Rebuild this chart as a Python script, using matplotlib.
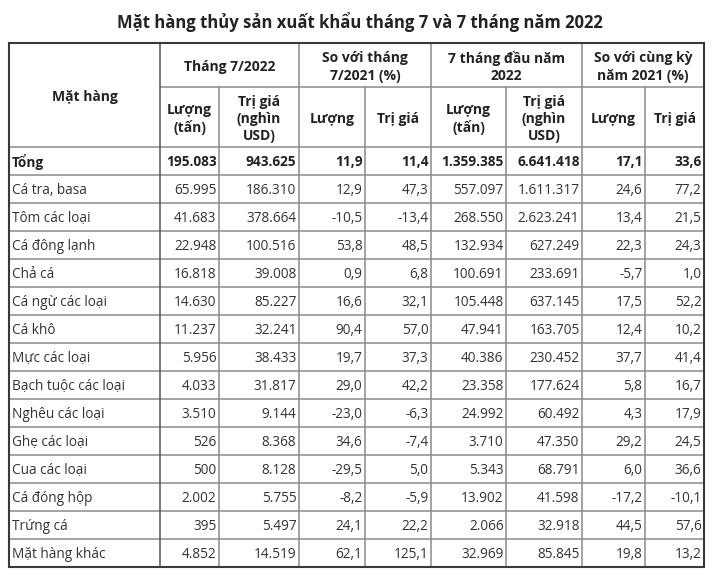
import matplotlib
matplotlib.use("Agg")
import matplotlib.pyplot as plt

plt.rcParams['font.family'] = ['Open Sans', 'DejaVu Sans']

title = "Mặt hàng thủy sản xuất khẩu tháng 7 và 7 tháng năm 2022"

group_headers = ["Tháng 7/2022", "So với tháng\n7/2021 (%)", "7 tháng đầu năm\n2022", "So với cùng kỳ\nnăm 2021 (%)"]
sub_headers = ["Lượng\n(tấn)", "Trị giá\n(nghìn\nUSD)", "Lượng", "Trị giá",
               "Lượng\n(tấn)", "Trị giá\n(nghìn\nUSD)", "Lượng", "Trị giá"]
first_header = "Mặt hàng"

items = ["Tổng", "Cá tra, basa", "Tôm các loại", "Cá đông lạnh", "Chả cá", "Cá ngừ các loại",
         "Cá khô", "Mực các loại", "Bạch tuộc các loại", "Nghêu các loại", "Ghẹ các loại",
         "Cua các loại", "Cá đóng hộp", "Trứng cá", "Mặt hàng khác"]

jul_vol = [195083, 65995, 41683, 22948, 16818, 14630, 11237, 5956, 4033, 3510, 526, 500, 2002, 395, 4852]
jul_val = [943625, 186310, 378664, 100516, 39008, 85227, 32241, 38433, 31817, 9144, 8368, 8128, 5755, 5497, 14519]
jul_vol_pct = [11.9, 12.9, -10.5, 53.8, 0.9, 16.6, 90.4, 19.7, 29.0, -23.0, 34.6, -29.5, -8.2, 24.1, 62.1]
jul_val_pct = [11.4, 47.3, -13.4, 48.5, 6.8, 32.1, 57.0, 37.3, 42.2, -6.3, -7.4, 5.0, -5.9, 22.2, 125.1]
ytd_vol = [1359385, 557097, 268550, 132934, 100691, 105448, 47941, 40386, 23358, 24992, 3710, 5343, 13902, 2066, 32969]
ytd_val = [6641418, 1611317, 2623241, 627249, 233691, 637145, 163705, 230452, 177624, 60492, 47350, 68791, 41598, 32918, 85845]
ytd_vol_pct = [17.1, 24.6, 13.4, 22.3, -5.7, 17.5, 12.4, 37.7, 5.8, 4.3, 29.2, 6.0, -17.2, 44.5, 19.8]
ytd_val_pct = [33.6, 77.2, 21.5, 24.3, 1.0, 52.2, 10.2, 41.4, 16.7, 17.9, 24.5, 36.6, -10.1, 57.6, 13.2]


def fmt_int(v):
    return f"{v:,}".replace(",", ".")


def fmt_pct(v):
    return f"{v:.1f}".replace(".", ",")


columns = [
    [fmt_int(v) for v in jul_vol],
    [fmt_int(v) for v in jul_val],
    [fmt_pct(v) for v in jul_vol_pct],
    [fmt_pct(v) for v in jul_val_pct],
    [fmt_int(v) for v in ytd_vol],
    [fmt_int(v) for v in ytd_val],
    [fmt_pct(v) for v in ytd_vol_pct],
    [fmt_pct(v) for v in ytd_val_pct],
]

# layout (pixels)
W, H = 719, 575
col_x = [9, 160, 219, 299, 365, 431, 506, 582, 645, 704]
top, mid, head_bot = 43, 87, 147
row_h = 28
bottom = head_bot + row_h * len(items)

fig = plt.figure(figsize=(W / 100, H / 100), dpi=100)
ax = fig.add_axes([0, 0, 1, 1])
ax.set_xlim(0, W)
ax.set_ylim(H, 0)
ax.axis('off')

inner_c = '#8a8a8a'
outer_c = '#3a3a3a'
lw_in = 1.1
lw_out = 1.5
txt_c = '#333333'
head_c = '#222222'
fs = 9.8
hfs = 10

# horizontal lines
ax.plot([col_x[1], col_x[-1]], [mid, mid], color=inner_c, lw=lw_in)
for i in range(len(items)):
    y = head_bot + row_h * i
    ax.plot([col_x[0], col_x[-1]], [y, y], color=inner_c, lw=lw_in)
# vertical lines
for j, x in enumerate(col_x[1:-1], start=1):
    y0 = top if j % 2 == 1 else mid
    ax.plot([x, x], [y0, bottom], color=inner_c if j != 1 else '#555555', lw=lw_in)
# outer border
ax.plot([col_x[0], col_x[-1], col_x[-1], col_x[0], col_x[0]],
        [top, top, bottom, bottom, top], color=outer_c, lw=lw_out, solid_joinstyle='miter')

# title
ax.text(W / 2, 22, title, ha='center', va='center', fontsize=12, fontweight='bold', color='#222222')

# headers
ax.text((col_x[0] + col_x[1]) / 2, 97, first_header, ha='center', va='center',
        fontsize=hfs, fontweight='bold', color=head_c)
for g, lab in enumerate(group_headers):
    xc = (col_x[1 + 2 * g] + col_x[3 + 2 * g]) / 2
    ax.text(xc, 67, lab, ha='center', va='center', fontsize=hfs, fontweight='bold',
            color=head_c, linespacing=1.3)
for s, lab in enumerate(sub_headers):
    xc = (col_x[1 + s] + col_x[2 + s]) / 2
    ax.text(xc, 119, lab, ha='center', va='center', fontsize=hfs, fontweight='bold',
            color=head_c, linespacing=1.3)

# body
for i, name in enumerate(items):
    yc = head_bot + row_h * i + row_h / 2 + 1
    bold = (i == 0)
    ax.text(col_x[0] + 3, yc, name, ha='left', va='center', fontsize=fs,
            fontweight='bold' if bold else 'normal', color=head_c if bold else txt_c)
    for c, col in enumerate(columns):
        ax.text(col_x[c + 2] - 2.5, yc, col[i], ha='right', va='center', fontsize=fs,
                fontweight='bold' if bold else 'normal', color=head_c if bold else txt_c)

fig.savefig('out.png', dpi=100)
